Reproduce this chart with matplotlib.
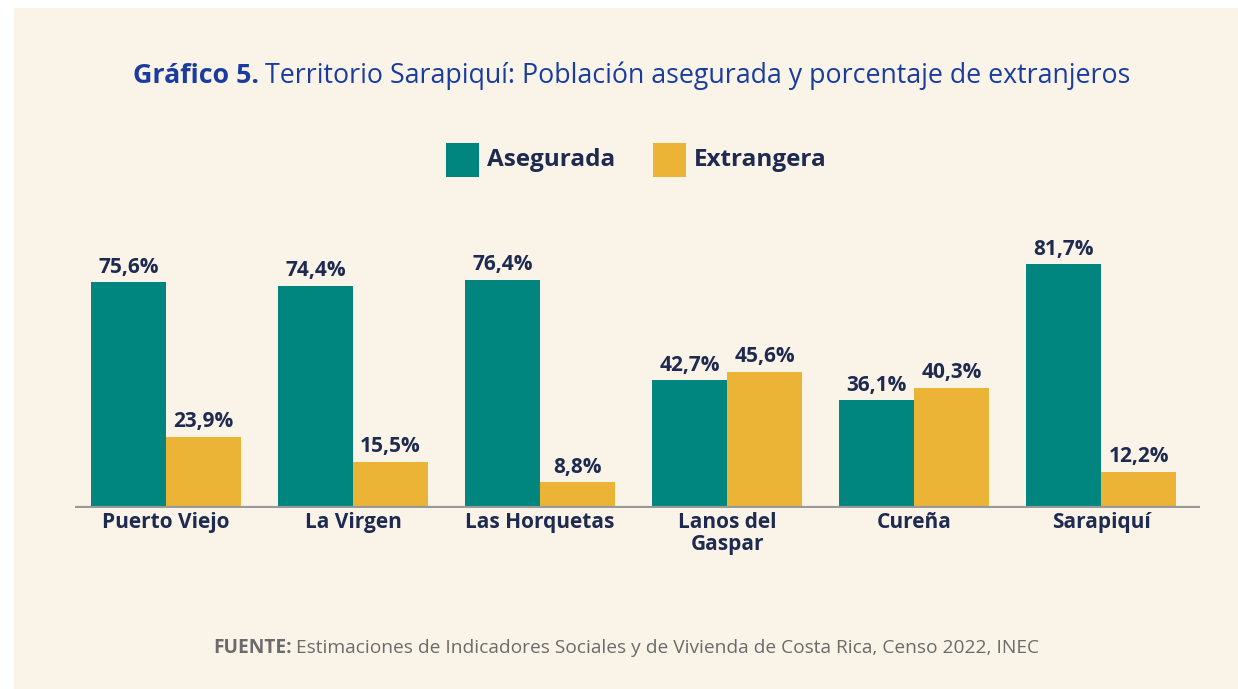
import numpy as np
import matplotlib.pyplot as plt
from matplotlib.patches import Rectangle

plt.rcParams['font.family'] = ['Open Sans', 'DejaVu Sans']

territorios = ['Puerto Viejo', 'La Virgen', 'Las Horquetas', 'Lanos del\nGaspar', 'Cureña', 'Sarapiquí']
asegurada = [75.6, 74.4, 76.4, 42.7, 36.1, 81.7]
extranjera = [23.9, 15.5, 8.8, 45.6, 40.3, 12.2]
series_names = ['Asegurada', 'Extrangera']

teal = '#00857F'
amarillo = '#EBB437'
fondo = '#FAF3E8'
navy = '#1E2A50'
azul = '#1A3C9E'

fig = plt.figure(figsize=(12.38, 6.89), dpi=100)
fig.patch.set_facecolor('white')
# panel crema con margen blanco arriba e izquierda
fig.patches.append(Rectangle((14 / 1238, 0), 1 - 14 / 1238, 1 - 8 / 689,
                             transform=fig.transFigure, facecolor=fondo,
                             edgecolor='none', zorder=-5))

ax = fig.add_axes([75 / 1238, 181 / 689, 1125 / 1238, 299 / 689])
ax.set_facecolor('none')

x = np.arange(len(territorios))
w = 0.401
b1 = ax.bar(x - w / 2, asegurada, w, color=teal, zorder=2)
b2 = ax.bar(x + w / 2, extranjera, w, color=amarillo, zorder=2)

for bars, vals in [(b1, asegurada), (b2, extranjera)]:
    for r, v in zip(bars, vals):
        ax.annotate(f'{v:.1f}%'.replace('.', ','), (r.get_x() + r.get_width() / 2, v),
                    xytext=(0, 3), textcoords='offset points', ha='center', va='bottom',
                    fontsize=15, fontweight='bold', color=navy)

ax.set_xlim(-0.487, 5.529)
ax.set_ylim(0, 100)
ax.axhline(0, color='#999999', lw=3, zorder=3)
for s in ax.spines.values():
    s.set_visible(False)
ax.set_yticks([])
ax.set_xticks(x)
ax.set_xticklabels(territorios, fontsize=15, fontweight='bold', color=navy, linespacing=1.05)
ax.tick_params(axis='x', length=0, pad=3)

# titulo en dos partes
t1 = fig.text(133 / 1238, 1 - 76 / 689, 'Gráfico 5.', fontsize=19.3, fontweight='bold',
              color=azul, ha='left', va='center')
fig.canvas.draw()
bb = t1.get_window_extent()
fig.text((bb.x1 + 6) / 1238, 1 - 76 / 689,
         'Territorio Sarapiquí: Población asegurada y porcentaje de extranjeros',
         fontsize=19.3, color=azul, ha='left', va='center')

# leyenda
for xs, col, name in [(446, teal, series_names[0]), (653, amarillo, series_names[1])]:
    fig.patches.append(Rectangle((xs / 1238, 1 - 177 / 689), 33 / 1238, 34 / 689,
                                 transform=fig.transFigure, facecolor=col, edgecolor='none'))
    fig.text((xs + 41) / 1238, 1 - 160 / 689, name, fontsize=17.5, fontweight='bold',
             color=navy, ha='left', va='center')

# fuente
f1 = fig.text(213 / 1238, 1 - 648 / 689, 'FUENTE:', fontsize=13.8, fontweight='bold',
              color='#6B6B6B', ha='left', va='center')
fig.canvas.draw()
bb = f1.get_window_extent()
fig.text((bb.x1 + 4) / 1238, 1 - 648 / 689,
         'Estimaciones de Indicadores Sociales y de Vivienda de Costa Rica, Censo 2022, INEC',
         fontsize=13.8, color='#6B6B6B', ha='left', va='center')

fig.savefig('out.png', dpi=100, facecolor=fig.get_facecolor())
